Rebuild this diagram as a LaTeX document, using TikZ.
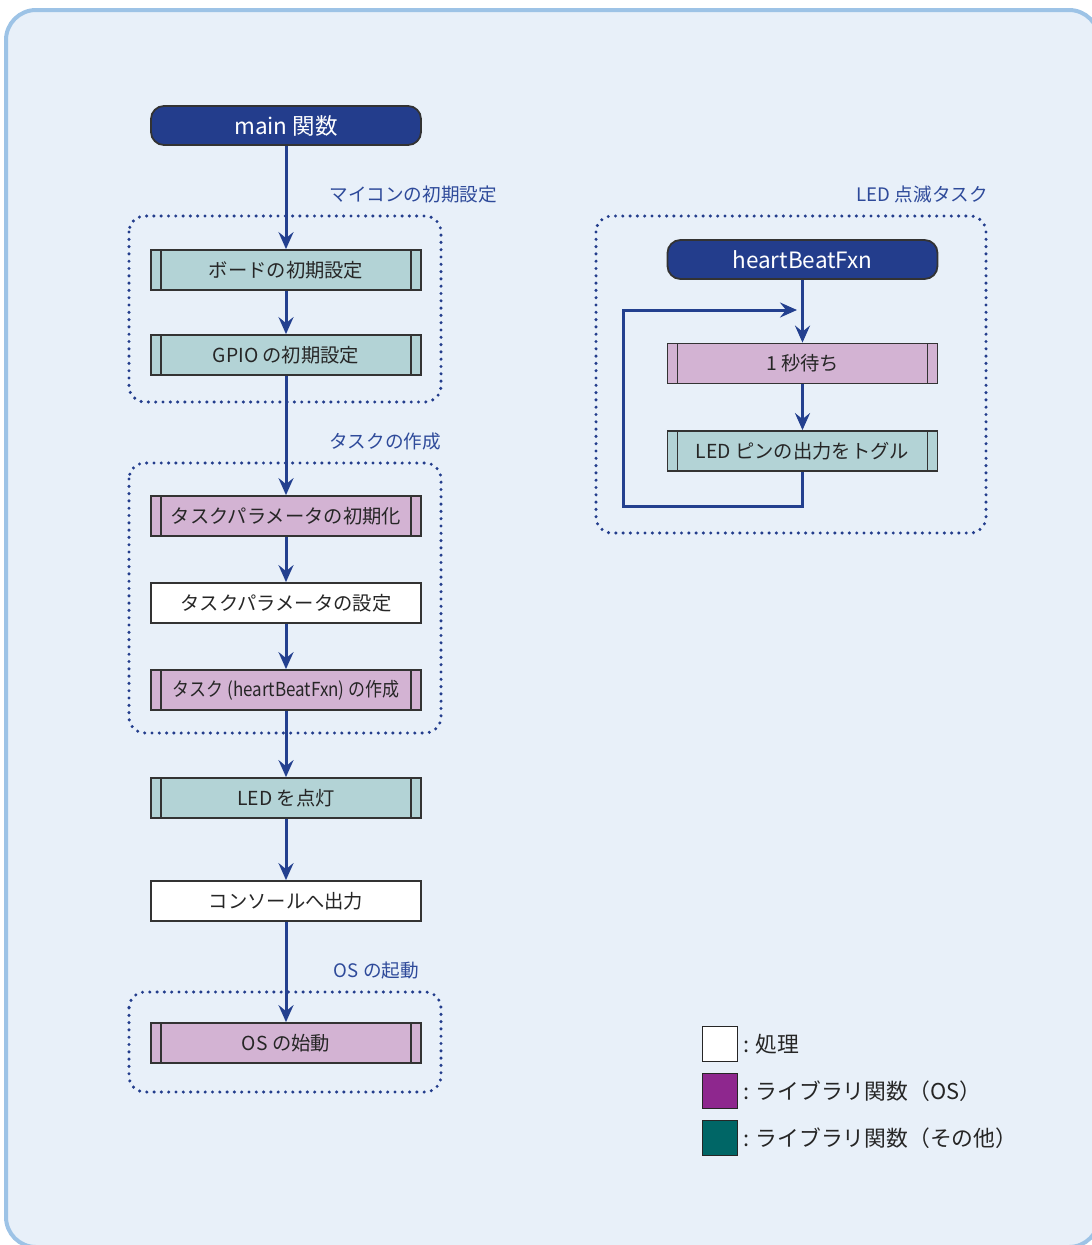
\documentclass[tikz,border=0pt]{standalone}
\usepackage{fontspec}
\newfontfamily\cjk{Noto Sans CJK JP}
\usetikzlibrary{arrows.meta}
\definecolor{bgfill}{HTML}{E8F0F9}
\definecolor{bgline}{HTML}{9DC3E6}
\definecolor{navy}{HTML}{233D8C}
\definecolor{conncol}{HTML}{23408F}
\definecolor{boxline}{HTML}{333333}
\definecolor{tealfill}{HTML}{B3D3D6}
\definecolor{pinkfill}{HTML}{D3B3D3}
\definecolor{labcol}{HTML}{2E4A9A}
\definecolor{legpurple}{HTML}{8E278E}
\definecolor{legteal}{HTML}{006666}
\tikzset{
  basebox/.style={draw=boxline, line width=1.8pt, minimum width=270pt, minimum height=40pt,
    inner sep=0pt, font=\cjk\fontsize{19.3}{22}\selectfont, text=black!85},
  procbox/.style={basebox, fill=white},
  libbar/.style={basebox, path picture={
    \draw[draw=boxline, line width=1.6pt]
      ([xshift=10pt]path picture bounding box.north west) -- ([xshift=10pt]path picture bounding box.south west)
      ([xshift=-10pt]path picture bounding box.north east) -- ([xshift=-10pt]path picture bounding box.south east);}},
  osbox/.style={libbar, fill=pinkfill},
  otherbox/.style={libbar, fill=tealfill},
  startbox/.style={draw=black!80, line width=1.8pt, fill=navy, rounded corners=13pt,
    minimum width=270pt, minimum height=39pt, inner sep=0pt,
    font=\cjk\fontsize{22.5}{26}\selectfont, text=white},
  conn/.style={draw=conncol, line width=3pt, -{Stealth[length=17pt, width=15pt, inset=6pt]}},
  loopline/.style={draw=conncol, line width=3pt},
  group/.style={draw=navy, line width=3.4pt, dash pattern=on 0pt off 7.3pt, line cap=round, rounded corners=16pt},
  grouplabel/.style={font=\cjk\fontsize{18.6}{22}\selectfont, text=labcol, inner sep=0pt, anchor=east},
  legsq/.style={draw=black!85, line width=1.8pt, minimum width=35pt, minimum height=35pt, inner sep=0pt},
  legtext/.style={font=\cjk\fontsize{21.8}{26}\selectfont, text=black!85, inner sep=0pt, anchor=west}
}
\begin{document}
\begin{tikzpicture}[x=1pt, y=-1pt]
\useasboundingbox (0,0) rectangle (1092,1245);
\begin{scope}
\clip (0,0) rectangle (1092,1245);
\draw[fill=bgfill, draw=bgline, line width=4pt, rounded corners=30pt] (6,10) rectangle (1099,1247);
\end{scope}

% group frames
\draw[group] (129,216) rectangle (441,402);
\draw[group] (129,463) rectangle (441,733);
\draw[group] (129,992) rectangle (441,1092);
\draw[group] (596,216) rectangle (986,533);

\node[grouplabel] (lab1) at (497,194) {マイコンの初期設定};
\node[grouplabel] (lab2) at (441,442) {タスクの作成};
\node[grouplabel] (lab3) at (419,971) {OS の起動};
\node[grouplabel] (lab4) at (988,194) {LED 点滅タスク};

% main flow
\node[startbox] (main) at (286,125.5) {main 関数};
\node[otherbox] (board) at (286,270) {ボードの初期設定};
\node[otherbox] (gpio) at (286,355) {GPIO の初期設定};
\node[osbox] (tparam) at (286,516) {タスクパラメータの初期化};
\node[procbox] (tset) at (286,603) {タスクパラメータの設定};
\node[osbox] (tcreate) at (286,690) {\scalebox{0.88}[1]{タスク (heartBeatFxn) の作成}};
\node[otherbox] (ledon) at (286,798) {LED を点灯};
\node[procbox] (console) at (286,901) {コンソールへ出力};
\node[osbox] (osstart) at (286,1043) {OS の始動};

\draw[conn] (main) -- (board);
\draw[conn] (board) -- (gpio);
\draw[conn] (gpio) -- (tparam);
\draw[conn] (tparam) -- (tset);
\draw[conn] (tset) -- (tcreate);
\draw[conn] (tcreate) -- (ledon);
\draw[conn] (ledon) -- (console);
\draw[conn] (console) -- (osstart);

% task flow
\node[startbox] (hb) at (802.5,259.5) {heartBeatFxn};
\node[osbox] (wait) at (802.5,363.5) {1 秒待ち};
\node[otherbox] (toggle) at (802.5,451) {LED ピンの出力をトグル};

\draw[conn] (hb) -- (wait);
\draw[conn] (wait) -- (toggle);
\coordinate (loopbl) at (623,506);
\coordinate (loopend) at (797,310);
\draw[loopline, -{Stealth[length=17pt, width=15pt, inset=6pt]}] (toggle.south) |- (loopbl) |- (loopend);

% legend
\node[legsq, fill=white] (lg1) at (720,1044) {};
\node[legsq, fill=legpurple] (lg2) at (720,1091) {};
\node[legsq, fill=legteal] (lg3) at (720,1138) {};
\node[legtext] (lt1) at (743,1044) {: 処理};
\node[legtext] (lt2) at (743,1091) {: ライブラリ関数（OS）};
\node[legtext] (lt3) at (743,1138) {: ライブラリ関数（その他）};
\end{tikzpicture}
\end{document}
